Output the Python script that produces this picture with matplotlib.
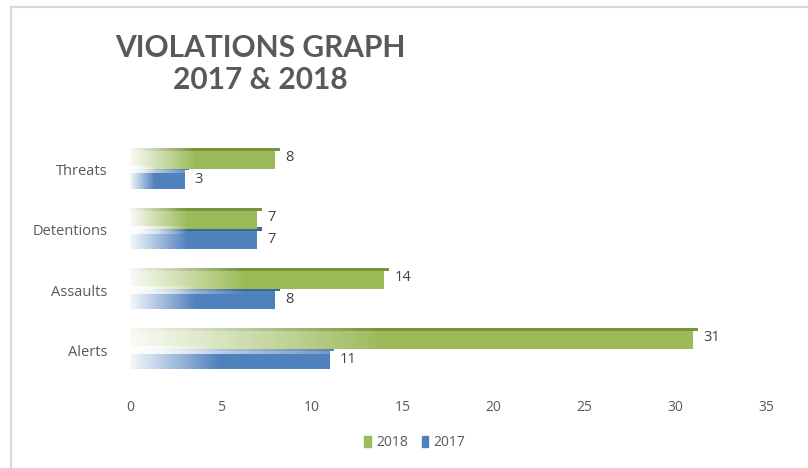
import numpy as np
import matplotlib
matplotlib.use("Agg")
import matplotlib.pyplot as plt
from matplotlib.patches import Rectangle
from matplotlib.lines import Line2D
from matplotlib.colors import LinearSegmentedColormap

categories = ["Alerts", "Assaults", "Detentions", "Threats"]
values_2018 = [31, 14, 7, 8]
values_2017 = [11, 8, 7, 3]
series_names = ["2018", "2017"]
x_ticks = [0, 5, 10, 15, 20, 25, 30, 35]
title = "VIOLATIONS GRAPH\n2017 & 2018"

green = "#9BBB59"
green_top = "#76923C"
blue = "#4F81BD"
blue_top = "#3A6699"
text_col = "#595959"

plt.rcParams["font.family"] = ["Open Sans", "DejaVu Sans"]

fig = plt.figure(figsize=(8.08, 4.68), dpi=100)
ax = fig.add_axes([0.161, 0.175, 0.948 - 0.161, 0.714 - 0.175])

# outer frame (light gray, left and top)
fig.add_artist(Line2D([11 / 808, 11 / 808], [0, 1 - 7 / 468], transform=fig.transFigure,
                      color="#D9D9D9", lw=1.5))
fig.add_artist(Line2D([11 / 808, 1], [1 - 7 / 468, 1 - 7 / 468], transform=fig.transFigure,
                      color="#D9D9D9", lw=1.5))

y = np.arange(len(categories))
h = 0.3
off = 0.16

grad = np.linspace(0, 1, 256).reshape(1, -1)
fade = LinearSegmentedColormap.from_list("fade", [(1, 1, 1, 0.95), (1, 1, 1, 0.0)])


def draw_series(vals, ypos, col, topcol):
    bars = ax.barh(ypos, vals, height=h, color=col, zorder=2)
    # darker 3D top face
    ax.barh(ypos + h / 2 + 0.03, [v + 0.25 for v in vals], height=0.06,
            color=topcol, zorder=1.5, left=0)
    for b in bars:
        x0, y0 = b.get_x(), b.get_y()
        w, hh = b.get_width(), b.get_height()
        ax.imshow(grad, extent=[x0, x0 + w * 0.45, y0 - 0.07, y0 + hh + 0.07],
                  cmap=fade, aspect="auto", zorder=3, interpolation="bilinear")
    return bars


draw_series(values_2018, y + off, green, green_top)
draw_series(values_2017, y - off, blue, blue_top)

for v, yy in zip(values_2018, y + off):
    ax.text(v + 0.55, yy + 0.05, str(v), va="center", ha="left", fontsize=10.5,
            color="#404040", zorder=5)
for v, yy in zip(values_2017, y - off):
    ax.text(v + 0.55, yy, str(v), va="center", ha="left", fontsize=10.5,
            color="#404040", zorder=5)

ax.set_xlim(0, 35)
ax.set_ylim(-0.6, 3.6)
ax.set_xticks(x_ticks)
ax.set_xticklabels([str(t) for t in x_ticks], fontsize=10, color=text_col)
ax.set_yticks(y)
ax.set_yticklabels(categories, fontsize=10.5, color=text_col)
ax.tick_params(axis="both", length=0)
ax.tick_params(axis="y", pad=16)
ax.tick_params(axis="x", pad=10)
for s in ax.spines.values():
    s.set_visible(False)

fig.text(260 / 808, 1 - 64 / 468, title, ha="center", va="center", fontsize=21.5,
         fontweight="bold", color=text_col, family=["Lato", "DejaVu Sans"],
         linespacing=1.2)

handles = [Rectangle((0, 0), 1, 1, color=green), Rectangle((0, 0), 1, 1, color=blue)]
fig.legend(handles, series_names, loc="center", bbox_to_anchor=(415 / 808, 1 - 443 / 468),
           ncol=2, frameon=False, fontsize=10, handlelength=0.45, handleheight=0.9,
           handletextpad=0.4, columnspacing=1.0, labelcolor=text_col)

fig.savefig("out.png", dpi=100)
